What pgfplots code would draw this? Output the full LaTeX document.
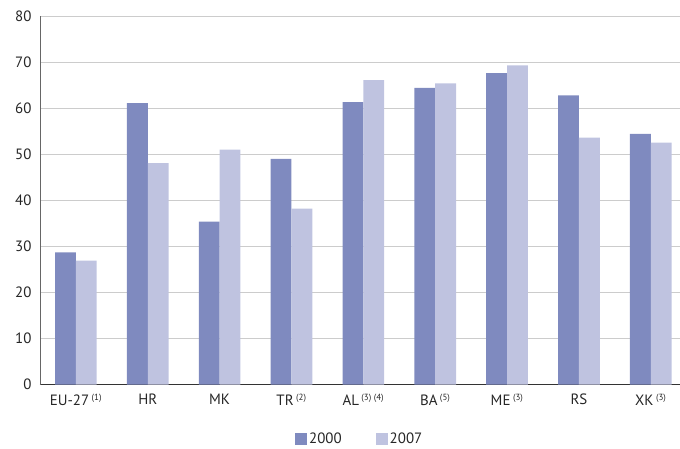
\documentclass[border=0pt]{standalone}
\usepackage{pgfplots}
\pgfplotsset{compat=1.18}
\usepackage{fontspec}
\setmainfont{PT Sans}

\definecolor{c2000}{HTML}{7F8ABF}
\definecolor{c2007}{HTML}{BFC3E0}
\definecolor{gridgray}{HTML}{CCCCCC}

\newcommand{\note}[1]{\,\textsuperscript{\fontsize{9}{9}\selectfont #1}}

\begin{document}
\begin{tikzpicture}
\begin{axis}[
  name=ax,
  width=640bp, height=369bp, scale only axis,
  xmin=-0.5, xmax=8.4,
  ymin=0, ymax=80,
  ytick={0,10,...,80},
  xtick={0,...,8},
  xticklabels={EU-27\note{(1)}, HR, MK, TR\note{(2)},
    AL\note{(3) (4)}, BA\note{(5)}, ME\note{(3)},
    RS, XK\note{(3)}},
  axis x line*=bottom, axis y line*=left,
  x axis line style={draw=black!80, line width=0.9pt},
  y axis line style={draw=black!60, line width=0.9pt},
  major tick length=0pt,
  ymajorgrids, grid style={draw=gridgray, line width=0.8pt},
  tick label style={font=\fontsize{15}{17}\selectfont, text=black!85},
  /pgf/number format/assume math mode=true,
  yticklabel style={xshift=-5bp},
  xticklabel style={yshift=-6bp},
  legend style={at={(0.5,-0.146)}, anchor=center, legend columns=2,
    draw=none, font=\fontsize{15}{17}\selectfont, text=black!85,
    /tikz/every even column/.append style={column sep=32bp},
    nodes={inner sep=2bp}},
  legend image code/.code={\fill[#1,draw=none] (0bp,-6bp) rectangle (12bp,6bp);},
]
\addplot[ybar, bar width=0.29, bar shift=-0.145, fill=c2000, draw=none]
  coordinates {(0,28.7) (1,61.1) (2,35.4) (3,49.0) (4,61.3) (5,64.4) (6,67.6) (7,62.8) (8,54.4)};
\addplot[ybar, bar width=0.29, bar shift=0.145, fill=c2007, draw=none]
  coordinates {(0,26.9) (1,48.1) (2,51.0) (3,38.2) (4,66.1) (5,65.4) (6,69.3) (7,53.6) (8,52.5)};
\legend{2000, 2007}
\end{axis}
\path ([xshift=-40bp,yshift=-61bp]ax.south west) rectangle ([yshift=16bp]ax.north east);
\end{tikzpicture}
\end{document}
